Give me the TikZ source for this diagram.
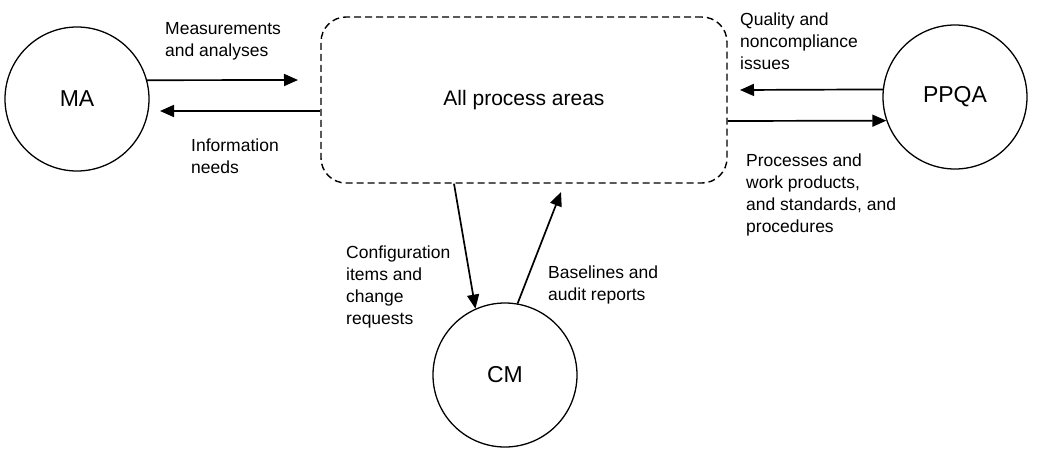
\documentclass[tikz,border=0pt]{standalone}
\usepackage{fontspec}
\setmainfont{Liberation Sans}
\usetikzlibrary{arrows.meta,calc}
\begin{document}
\begin{tikzpicture}[x=1pt,y=-1pt,
  proc/.style={circle,draw,line width=1.3pt,minimum size=144pt,inner sep=0pt,font=\fontsize{23}{26}\selectfont},
  area/.style={draw,dashed,dash pattern=on 7pt off 4pt,line width=1.4pt,rounded corners=25pt,minimum width=406pt,minimum height=166pt,inner sep=0pt,font=\fontsize{21}{24}\selectfont},
  flow/.style={line width=1.7pt,-{Triangle[length=14pt,width=12pt]}},
  lbl/.style={anchor=base west,align=left,inner sep=0pt,font=\fontsize{17.5}{22}\selectfont}]
\useasboundingbox (0,0) rectangle (1045,452);
\node[proc] (MA) at (77,99) {MA};
\node[proc] (PPQA) at (955,97) {PPQA};
\node[proc] (CM) at (505,375) {CM};
\node[area] (box) at (524,100) {All process areas};
% free ends
\coordinate (maend) at (298,80);
\coordinate (maret) at (160,111);
\coordinate (ppend) at (740,90);
\coordinate (cmend) at (561,192);
% connectors
\draw[flow] (MA.15) -- (maend);
\draw[flow] (box.west |- maret) -- (maret);
\draw[flow] (PPQA.174.5) -- (ppend);
\draw[flow] (box.east |- 0,121) -- (PPQA.199);
\draw[flow] (box.south -| 454,0) -- (CM.114);
\draw[flow] (CM.80) -- (cmend);
% labels (placed at the baseline of their last line)
\node[lbl] (l1) at (165,57) {Measurements\\and analyses};
\node[lbl] (l2) at (191,173) {Information\\needs};
\node[lbl] (l3) at (740,70) {Quality and\\noncompliance\\issues};
\node[lbl] (l4) at (746,232) {Processes and\\work products,\\and standards, and\\procedures};
\node[lbl] (l5) at (346,324) {Configuration\\items and\\change\\requests};
\node[lbl] (l6) at (548,300) {Baselines and\\audit reports};
\end{tikzpicture}
\end{document}
